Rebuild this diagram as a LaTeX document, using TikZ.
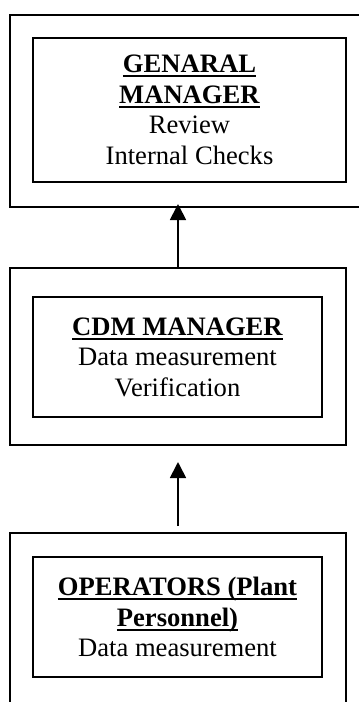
\documentclass[tikz,border=0pt]{standalone}
\usepackage{fontspec}
\setmainfont{Liberation Serif}
\usetikzlibrary{arrows.meta}
\newcommand\myul[1]{\setbox0\hbox{#1}\rlap{\rule[-4.5pt]{\wd0}{2pt}}\box0}
\begin{document}
\begin{tikzpicture}[x=1pt,y=-1pt,
  box/.style={draw, rectangle, line width=1.8pt, inner sep=0pt, outer sep=0pt},
  lbl/.style={align=center, font=\fontsize{26.6}{30.5}\selectfont},
  conn/.style={line width=1.8pt, -{Triangle[length=16pt,width=16pt]}}]
\useasboundingbox (0,0) rectangle (359,702);
\begin{scope}
\clip (0,0) rectangle (359,702);
% General manager
\node[box, minimum width=359pt, minimum height=192pt] (gmo) at (189.5,111) {};
\node[box, lbl, minimum width=313pt, minimum height=144pt] (gmi) at (189.5,110)
  {\myul{\textbf{GENARAL}}\\\myul{\textbf{MANAGER}}\\Review\\Internal Checks};
% CDM manager
\node[box, minimum width=336pt, minimum height=177pt] (cdmo) at (178,356.5) {};
\node[box, lbl, minimum width=289pt, minimum height=120pt] (cdmi) at (177.5,357)
  {\myul{\textbf{CDM MANAGER}}\\Data measurement\\Verification};
% Operators
\node[box, minimum width=336pt, minimum height=179pt] (opo) at (178,622.5) {};
\node[box, lbl, minimum width=289pt, minimum height=120pt] (opi) at (177.5,617)
  {\myul{\textbf{OPERATORS (Plant}}\\\myul{\textbf{Personnel)}}\\Data measurement};
\end{scope}
\draw[conn, shorten >=-3pt] (cdmo.north) -- (cdmo.north |- gmo.south);
\draw[conn, shorten <=7pt, shorten >=17pt] (opo.north) -- (cdmo.south);
\end{tikzpicture}
\end{document}
